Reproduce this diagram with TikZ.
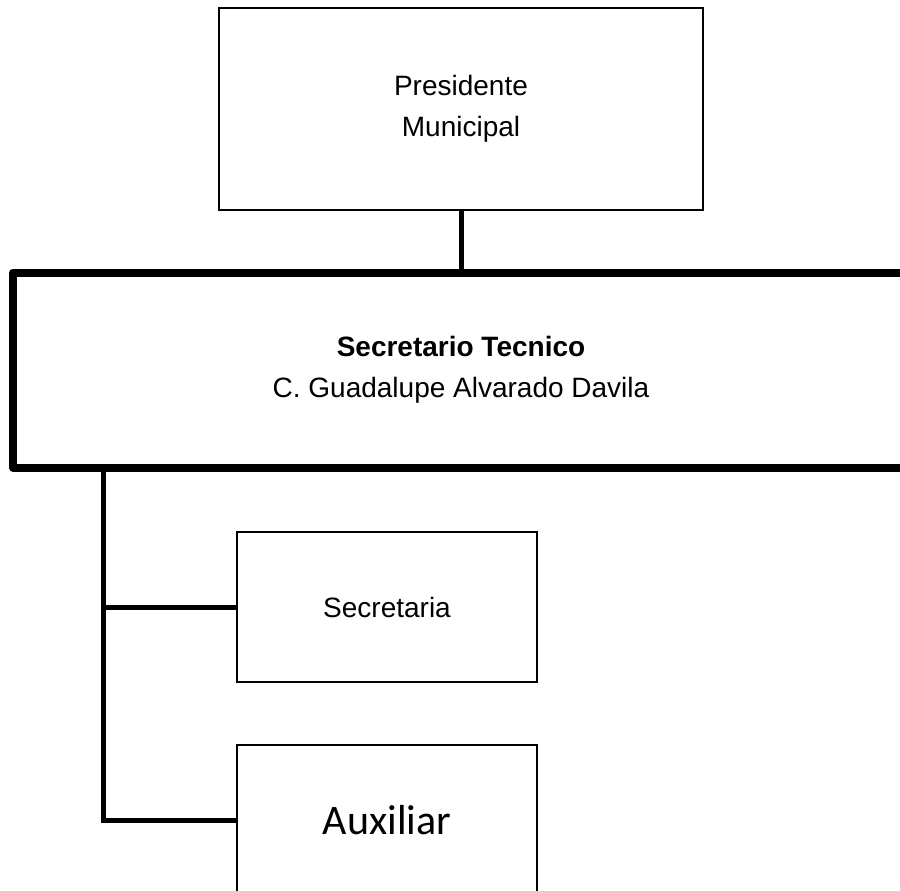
\documentclass[tikz,border=0pt]{standalone}
\usepackage{fontspec}
\setmainfont{Liberation Sans}
\newfontfamily\auxfont{Carlito}

\begin{document}
\begin{tikzpicture}[x=0.5pt,y=-0.5pt,
  box/.style={draw,line width=1pt,align=center,inner sep=0pt,font=\fontsize{14}{20.5}\selectfont},
  bigbox/.style={box,line width=4pt,line join=round},
  link/.style={line width=2.5pt}]
\useasboundingbox (0,0) rectangle (900,890);
\node[box,minimum width=242pt,minimum height=101pt] (pres) at (461,109) {Presidente\\Municipal};
\node[bigbox,minimum width=448pt,minimum height=97.5pt] (tec) at (461,370) {\textbf{Secretario Tecnico}\\C. Guadalupe Alvarado Davila};
\node[box,minimum width=150pt,minimum height=75pt] (sec) at (387,607) {Secretaria};
\node[box,minimum width=150pt,minimum height=75pt,font=\auxfont\fontsize{21}{25}\selectfont] (aux) at (387,820) {Auxiliar};
\coordinate (bus) at (103,820);
\draw[link] (pres.south) -- (tec.north);
\draw[link] (bus |- tec.south) -- (bus) -- (aux.west);
\draw[link] (bus |- sec.west) -- (sec.west);
\end{tikzpicture}
\end{document}
